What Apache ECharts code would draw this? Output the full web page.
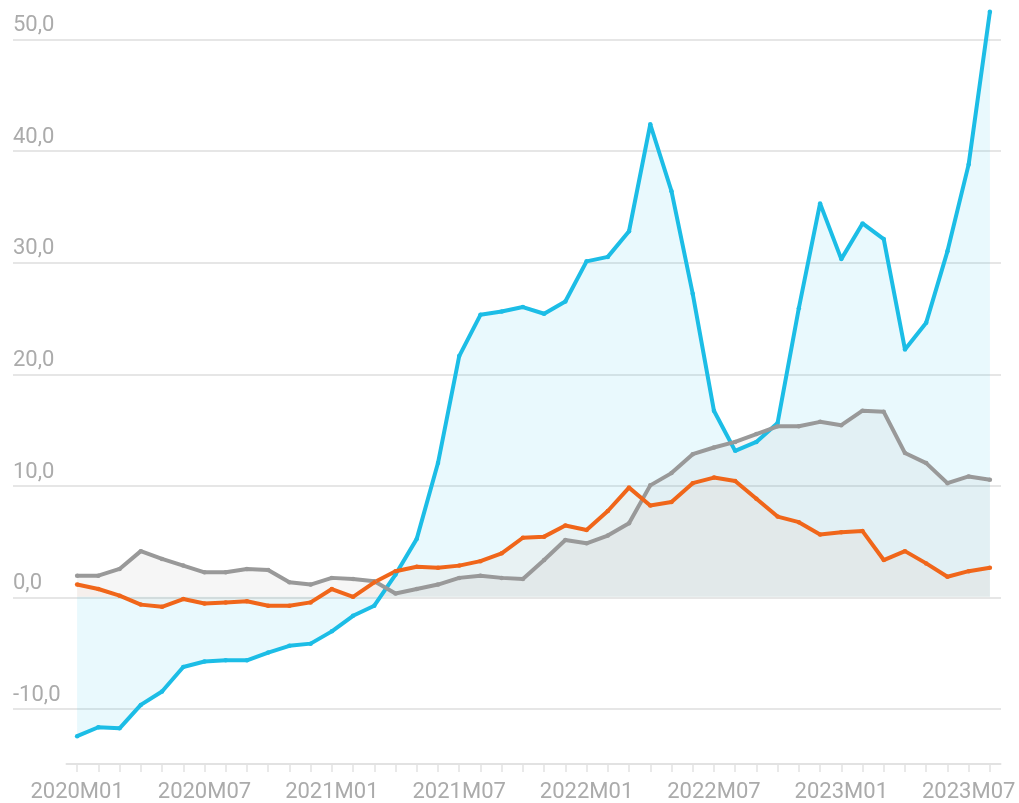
<!DOCTYPE html>
<html>
<head>
<meta charset="utf-8">
<title>chart</title>
<script src="https://cdn.jsdelivr.net/npm/echarts@6/dist/echarts.min.js"></script>
<style>
	html, body { margin: 0; padding: 0; background: #fff; }
	#main { width: 1019px; height: 803px; }
</style>
</head>
<body>
<div id="main"></div>
<script>
// 月份（2020M01 - 2023M08）
var months = [];
var years = [2020, 2021, 2022, 2023];
for (var y = 0; y < years.length; y++) {
	for (var m = 1; m <= 12; m++) {
		if (years[y] == 2023 && m > 8) break;
		months.push(years[y] + 'M' + (m < 10 ? '0' + m : m));
	}
}

// 蓝线
var blueValues = [-12.5, -11.7, -11.8, -9.7, -8.5, -6.3, -5.8, -5.7, -5.7, -5.0,
	-4.4, -4.2, -3.1, -1.7, -0.8, 2.0, 5.2, 12.0, 21.6, 25.3,
	25.6, 26.0, 25.4, 26.5, 30.1, 30.5, 32.8, 42.4, 36.4, 27.2,
	16.7, 13.1, 13.9, 15.6, 25.9, 35.3, 30.3, 33.5, 32.1, 22.2,
	24.6, 31.0, 38.8, 52.5];

// 灰线
var greyValues = [1.9, 1.9, 2.5, 4.1, 3.4, 2.8, 2.2, 2.2, 2.5, 2.4,
	1.3, 1.1, 1.7, 1.6, 1.4, 0.3, 0.7, 1.1, 1.7, 1.9,
	1.7, 1.6, 3.3, 5.1, 4.8, 5.5, 6.6, 10.0, 11.1, 12.8,
	13.4, 13.9, 14.6, 15.3, 15.3, 15.7, 15.4, 16.7, 16.6, 12.9,
	12.0, 10.2, 10.8, 10.5];

// 橙线
var orangeValues = [1.1, 0.7, 0.1, -0.7, -0.9, -0.2, -0.6, -0.5, -0.4, -0.8,
	-0.8, -0.5, 0.7, 0.0, 1.3, 2.3, 2.7, 2.6, 2.8, 3.2,
	3.9, 5.3, 5.4, 6.4, 6.0, 7.7, 9.8, 8.2, 8.5, 10.2,
	10.7, 10.4, 8.8, 7.2, 6.7, 5.6, 5.8, 5.9, 3.3, 4.1,
	3.0, 1.8, 2.3, 2.6];

// y轴范围
var yMin = -15;
var yMax = 53.55;
var yStep = 5;
var yLabelStep = 10;

var labelFont = 'Roboto';
var labelColor = '#ababab';

function lineSeries(name, values, color, fill) {
	return {
		name : name,
		type : 'line',
		xAxisIndex : 1,
		yAxisIndex : 1,
		data : values,
		symbol : 'circle',
		symbolSize : 4.5,
		showSymbol : true,
		lineStyle : { color : color, width : 4 },
		itemStyle : { color : color },
		areaStyle : { color : fill, origin : 0 },
		emphasis : { disabled : true }
	};
}

var myChart = echarts.init(document.getElementById('main'));

var option = {
	animation : false,
	backgroundColor : '#fff',
	grid : [
		// 背景网格线和y轴标签
		{ left : 13, right : 18, top : 0, bottom : 38 },
		// 数据
		{ left : 66.5, right : 18.5, top : 0, bottom : 38 }
	],
	xAxis : [{
		gridIndex : 0,
		type : 'value',
		show : false
	}, {
		gridIndex : 1,
		type : 'category',
		data : months,
		boundaryGap : true,
		axisLine : { onZero : false, lineStyle : { color : '#e2e2e2', width : 2 } },
		axisTick : {
			show : true,
			interval : 0,
			alignWithLabel : true,
			length : 8,
			lineStyle : { color : '#e2e2e2', width : 1.5 }
		},
		axisLabel : {
			interval : 5,
			margin : 17,
			color : labelColor,
			fontFamily : labelFont,
			fontSize : 22
		},
		splitLine : { show : false }
	}],
	yAxis : [{
		gridIndex : 0,
		type : 'value',
		min : yMin,
		max : yMax,
		interval : yStep,
		axisLine : { show : false },
		axisTick : { show : false },
		axisLabel : {
			inside : true,
			margin : 0,
			verticalAlign : 'bottom',
			padding : [0, 0, 3, 0],
			color : labelColor,
			fontFamily : labelFont,
			fontSize : 22,
			formatter : function(v) {
				if (v % yLabelStep != 0) return '';
				return v.toFixed(1).replace('.', ',');
			}
		},
		splitLine : {
			show : true,
			lineStyle : { color : ['transparent', '#e6e6e6'], width : 2 }
		}
	}, {
		gridIndex : 1,
		type : 'value',
		min : yMin,
		max : yMax,
		interval : yStep,
		show : false,
		splitLine : { show : false }
	}],
	series : [
		lineSeries('blue', blueValues, '#1cbde6', 'rgba(28,189,230,0.14)'),
		lineSeries('grey', greyValues, '#999999', 'rgba(150,150,150,0.13)'),
		lineSeries('orange', orangeValues, '#f0661a', 'rgba(240,102,26,0.06)')
	]
};

myChart.setOption(option);
</script>
</body>
</html>
